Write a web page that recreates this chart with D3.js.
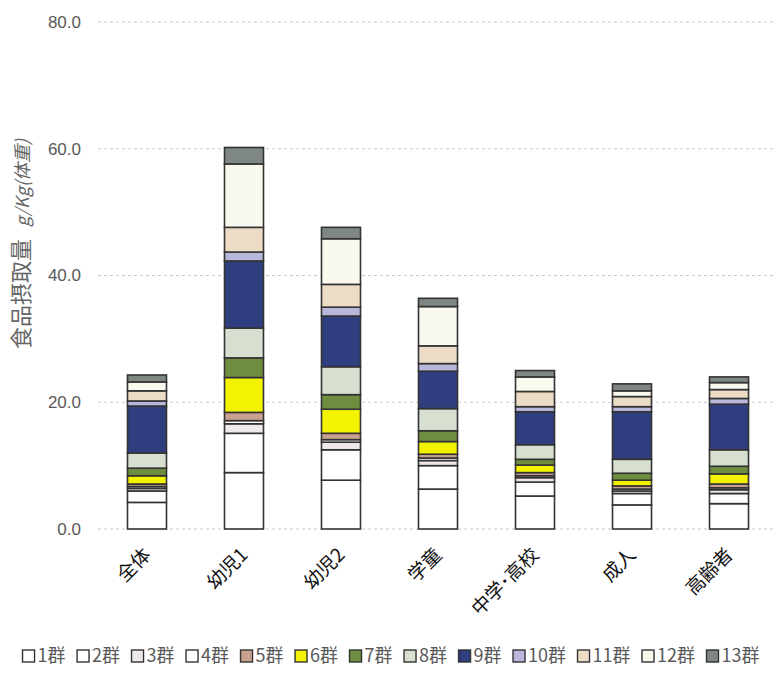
<!DOCTYPE html>
<html>
<head>
<meta charset="utf-8">
<script src="https://cdn.jsdelivr.net/npm/d3@7"></script>
<style>
  html, body { margin: 0; padding: 0; background: #fff; }
  svg { display: block; }
</style>
</head>
<body>
<svg id="chart" width="773" height="673"></svg>
<script>
// Age groups along the x axis
const categories = ["全体", "幼児1", "幼児2", "学童", "中学･高校", "成人", "高齢者"];

// Food groups stacked bottom to top
const groups = ["1群", "2群", "3群", "4群", "5群", "6群", "7群", "8群", "9群", "10群", "11群", "12群", "13群"];

// Intake per food group, g/Kg(体重), one value per age group
const g1  = [4.2, 8.9, 7.7, 6.3, 5.2, 3.8, 4.0];
const g2  = [1.8, 6.2, 4.8, 3.7, 2.2, 1.8, 1.6];
const g3  = [0.4, 1.5, 1.2, 0.8, 0.7, 0.4, 0.6];
const g4  = [0.3, 0.5, 0.4, 0.4, 0.3, 0.3, 0.3];
const g5  = [0.4, 1.3, 1.0, 0.6, 0.5, 0.5, 0.6];
const g6  = [1.3, 5.5, 3.8, 2.0, 1.2, 0.9, 1.6];
const g7  = [1.2, 3.1, 2.3, 1.7, 0.9, 1.1, 1.2];
const g8  = [2.4, 4.7, 4.4, 3.5, 2.3, 2.2, 2.6];
const g9  = [7.4, 10.6, 8.0, 5.9, 5.2, 7.5, 7.2];
const g10 = [0.8, 1.4, 1.4, 1.2, 0.8, 0.8, 0.9];
const g11 = [1.6, 3.9, 3.6, 2.8, 2.4, 1.6, 1.4];
const g12 = [1.4, 10.0, 7.2, 6.2, 2.3, 0.9, 1.1];
const g13 = [1.1, 2.6, 1.8, 1.3, 1.0, 1.1, 0.9];

const seriesValues = [g1, g2, g3, g4, g5, g6, g7, g8, g9, g10, g11, g12, g13];

const colors = ["#ffffff", "#ffffff", "#eee8e8", "#ffffff", "#c9a190", "#f3f300",
                "#6f8d3e", "#d7dfd1", "#2f3e7e", "#b9b8dc", "#ecdcc6", "#f9f9ef", "#7e8781"];

const yTicks = [0, 20, 40, 60, 80];
const yTitle = "食品摂取量";
const yUnit = "g/Kg(体重)";

// Rows for d3.stack
const rows = categories.map((c, i) => {
  const r = { category: c };
  groups.forEach((g, k) => { r[g] = seriesValues[k][i]; });
  return r;
});

const svg = d3.select("#chart");
const font = "'Noto Sans CJK JP', 'Noto Sans', sans-serif";

const x = d3.scaleBand().domain(categories).range([98, 778])
  .paddingInner(0.598).paddingOuter(0.304);
const y = d3.scaleLinear().domain([0, 80]).range([529, 22]);

// Dashed gridlines
svg.append("g").selectAll("line").data(yTicks).join("line")
  .attr("x1", 98).attr("x2", 773)
  .attr("y1", d => y(d)).attr("y2", d => y(d))
  .attr("stroke", "#c8c8c8").attr("stroke-width", 1)
  .attr("stroke-dasharray", "3,3");

// Y axis labels
const yAxis = svg.append("g").attr("transform", "translate(81,0)")
  .call(d3.axisLeft(y).tickValues(yTicks).tickFormat(d3.format(".1f")).tickSize(0).tickPadding(0));
yAxis.select(".domain").remove();
yAxis.selectAll("text")
  .attr("font-family", "'Liberation Sans', 'Noto Sans', sans-serif")
  .attr("font-size", 17).attr("fill", "#595959");

// Y axis title
const title = svg.append("text")
  .attr("transform", "translate(29,244) rotate(-90)")
  .attr("text-anchor", "middle")
  .attr("font-family", font).attr("fill", "#666");
title.append("tspan").attr("font-size", 22).text(yTitle);
title.append("tspan").attr("font-size", 18).attr("dx", 12)
  .attr("font-style", "italic").text(yUnit);

// Stacked bars
const stacked = d3.stack().keys(groups)(rows);
svg.append("g").selectAll("g").data(stacked).join("g")
  .attr("fill", (d, k) => colors[k])
  .selectAll("rect").data(d => d).join("rect")
  .attr("x", d => x(d.data.category))
  .attr("width", x.bandwidth())
  .attr("y", d => y(d[1]))
  .attr("height", d => y(d[0]) - y(d[1]))
  .attr("stroke", "#333").attr("stroke-width", 1.6);

// Category labels, rotated
svg.append("g").selectAll("text").data(categories).join("text")
  .attr("transform", d => `translate(${x(d) + x.bandwidth() / 2 + 5},556) rotate(-45)`)
  .attr("text-anchor", "end")
  .attr("font-family", font).attr("font-size", 19).attr("fill", "#111")
  .text(d => d);

// Legend
const legend = svg.append("g").attr("transform", "translate(0,661)");
const items = legend.selectAll("g").data(groups).join("g");
items.append("rect")
  .attr("width", 12).attr("height", 12).attr("y", -11)
  .attr("fill", (d, k) => colors[k]).attr("stroke", "#333").attr("stroke-width", 1.4);
items.append("text")
  .attr("x", 15).attr("y", 1)
  .attr("font-family", font).attr("font-size", 18).attr("fill", "#595959")
  .text(d => d);
let cx = 0;
const gap = 11.5;
items.each(function () {
  const w = this.getBBox().width;
  d3.select(this).attr("data-x", cx);
  cx += w + gap;
});
const total = cx - gap;
const start = 391 - total / 2;
items.attr("transform", function () {
  return `translate(${start + (+d3.select(this).attr("data-x"))},0)`;
});
</script>
</body>
</html>
